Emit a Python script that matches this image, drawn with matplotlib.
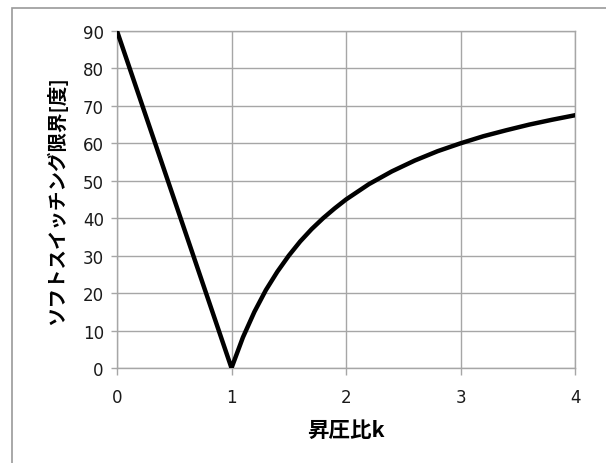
import matplotlib.pyplot as plt
from matplotlib.patches import Rectangle

plt.rcParams['font.family'] = ['DejaVu Sans']

# step-up ratio k and soft switching limit [deg]
k_values = [0.0, 0.25, 0.5, 0.75, 1.0, 1.1, 1.2, 1.3, 1.4, 1.5, 1.6, 1.7, 1.8,
            1.9, 2.0, 2.2, 2.4, 2.6, 2.8, 3.0, 3.2, 3.4, 3.6, 3.8, 4.0]
limit_deg = [90.0, 67.5, 45.0, 22.5, 0.0, 8.2, 15.0, 20.8, 25.7, 30.0, 33.8,
             37.1, 40.0, 42.6, 45.0, 49.1, 52.5, 55.4, 57.9, 60.0, 61.9, 63.5,
             65.0, 66.3, 67.5]

x_ticks = [0, 1, 2, 3, 4]
y_ticks = [0, 10, 20, 30, 40, 50, 60, 70, 80, 90]

fig = plt.figure(figsize=(6.06, 4.64), dpi=100)
fig.patches.append(Rectangle((12 / 606, -0.05), 0.99, 1.05 - 9 / 464,
                             transform=fig.transFigure, fill=False,
                             edgecolor='#9a9a9a', linewidth=1.2))

ax = fig.add_axes([117 / 606, 1 - 369 / 464, 458 / 606, 337 / 464])
ax.plot(k_values, limit_deg, color='black', linewidth=3.2,
        solid_joinstyle='round', zorder=3)

ax.set_xlim(0, 4)
ax.set_ylim(0, 90)
ax.set_xticks(x_ticks)
ax.set_yticks(y_ticks)
ax.grid(True, color='#a6a6a6', linewidth=1.0)
for s in ax.spines.values():
    s.set_color('#a6a6a6')
    s.set_linewidth(1.0)
ax.tick_params(direction='out', width=1.0, color='#a6a6a6',
               labelsize=12, labelcolor='#1a1a1a')
ax.tick_params(axis='y', length=4.5, pad=5)
ax.tick_params(axis='x', length=5, pad=9.5)

jp = ['Noto Sans CJK JP', 'DejaVu Sans']
ax.set_xlabel('昇圧比k', family=jp, fontweight='bold', fontsize=15.5, labelpad=9)
ax.set_ylabel('ソフトスイッチング限界[度]', family=jp, fontweight='bold',
              fontsize=14, labelpad=11)

fig.savefig('out.png', dpi=100)
